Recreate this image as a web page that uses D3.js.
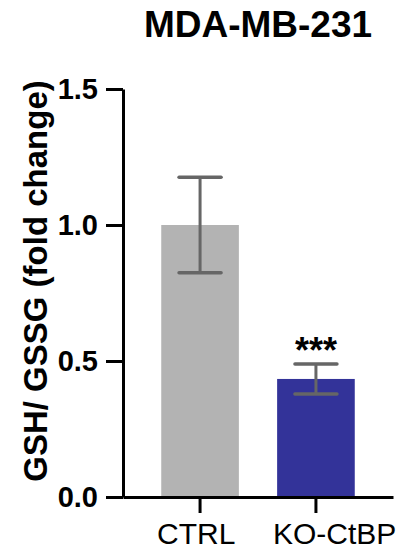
<!DOCTYPE html>
<html>
<head>
<meta charset="utf-8">
<script src="https://cdn.jsdelivr.net/npm/d3@7"></script>
<style>
  body { margin: 0; background: #fff; }
  svg { display: block; font-family: "Liberation Sans", Arial, Helvetica, sans-serif; }
  .axis path, .axis line { stroke: #000; stroke-width: 3; }
</style>
</head>
<body>
<div id="chart"></div>
<script>
const groups = ['CTRL', 'KO-CtBP'];
const means = [1.0, 0.434];
const errors = [0.176, 0.055];
const barColors = ['#b3b3b3', '#333399'];
const yTicks = [0.0, 0.5, 1.0, 1.5];
const stars = ['', '***'];

const width = 409, height = 554;
const margin = { top: 89, right: 16, bottom: 57, left: 123 };

const svg = d3.select('#chart')
  .append('svg')
  .attr('width', width)
  .attr('height', height);

const y = d3.scaleLinear()
  .domain([0, 1.5])
  .range([height - margin.bottom, margin.top]);

const x = d3.scaleBand()
  .domain(groups)
  .range([margin.left, width - margin.right])
  .paddingInner(0.33)
  .paddingOuter(0.33);

// title
svg.append('text')
  .attr('x', 258)
  .attr('y', 37)
  .attr('text-anchor', 'middle')
  .attr('font-size', 37)
  .attr('font-weight', 'bold')
  .text('MDA-MB-231');

// bars
const bars = svg.selectAll('g.bar')
  .data(groups)
  .enter()
  .append('g')
  .attr('class', 'bar');

bars.append('rect')
  .attr('x', d => x(d))
  .attr('width', x.bandwidth())
  .attr('y', (d, i) => y(means[i]))
  .attr('height', (d, i) => y(0) - y(means[i]))
  .attr('fill', (d, i) => barColors[i]);

// error bars (mean +/- error)
const cx = d => x(d) + x.bandwidth() / 2;
const capHalf = 21;

bars.append('line')
  .attr('x1', cx).attr('x2', cx)
  .attr('y1', (d, i) => y(means[i] + errors[i]))
  .attr('y2', (d, i) => y(means[i] - errors[i]))
  .attr('stroke', '#666').attr('stroke-width', 3);

[1, -1].forEach(sign => {
  bars.append('line')
    .attr('x1', d => cx(d) - capHalf)
    .attr('x2', d => cx(d) + capHalf)
    .attr('y1', (d, i) => y(means[i] + sign * errors[i]))
    .attr('y2', (d, i) => y(means[i] + sign * errors[i]))
    .attr('stroke', '#666').attr('stroke-width', 3.5)
    .attr('stroke-linecap', 'round');
});

// significance
bars.append('text')
  .attr('x', cx)
  .attr('y', (d, i) => y(means[i] + errors[i]) - 1)
  .attr('text-anchor', 'middle')
  .attr('font-size', 36)
  .attr('font-weight', 'bold')
  .text((d, i) => stars[i]);

// y axis
const yAxis = svg.append('g')
  .attr('class', 'axis')
  .attr('transform', `translate(${margin.left},0)`)
  .call(d3.axisLeft(y)
    .tickValues(yTicks)
    .tickFormat(d3.format('.1f'))
    .tickSize(17)
    .tickSizeOuter(0)
    .tickPadding(8));

yAxis.selectAll('text')
  .attr('font-size', 29)
  .attr('font-weight', 'bold')
  .attr('fill', '#000')
  .attr('font-family', null);

// x axis
const xAxis = svg.append('g')
  .attr('class', 'axis')
  .attr('transform', `translate(0,${y(0)})`)
  .call(d3.axisBottom(x).tickSize(16).tickSizeOuter(0).tickPadding(10));

xAxis.selectAll('text')
  .attr('font-size', 30)
  .attr('fill', '#000')
  .attr('font-family', null)
  .attr('text-anchor', 'start')
  .attr('dx', -43);

// y label
svg.append('text')
  .attr('transform', `translate(47,281) rotate(-90)`)
  .attr('text-anchor', 'middle')
  .attr('font-size', 33)
  .attr('font-weight', 'bold')
  .text('GSH/ GSSG (fold change)');
</script>
</body>
</html>
